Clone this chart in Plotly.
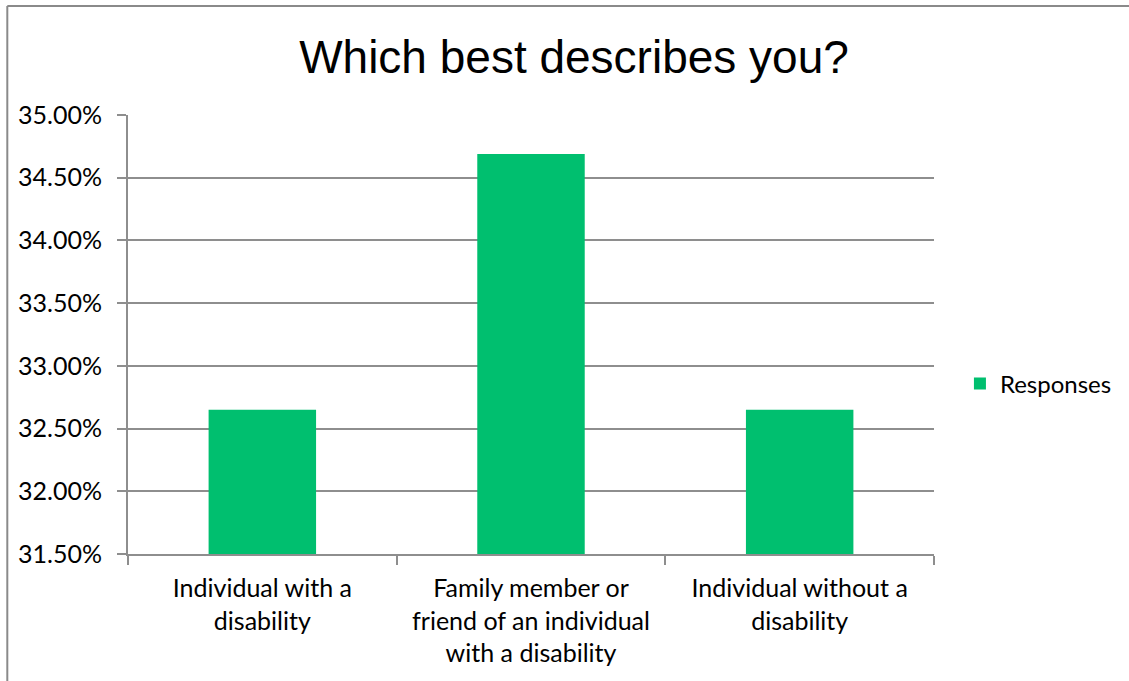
import plotly.graph_objects as go

# Survey results
categories = [
    "Individual with a<br>disability",
    "Family member or<br>friend of an individual<br>with a disability",
    "Individual without a<br>disability",
]
responses = [32.65, 34.69, 32.65]  # percent of respondents
series_name = "Responses"
title_text = "Which best describes you?"

W, H = 1129, 681
ML, MR, MT, MB = 128, 193, 115, 127
plot_w = W - ML - MR
plot_h = H - MT - MB

GRID = "#8e8e8e"
BAR = "#00BF6F"
TICK_FONT = dict(family="Lato, 'Open Sans', sans-serif", size=25, color="#000000")

fig = go.Figure()
fig.add_trace(go.Bar(
    x=categories,
    y=responses,
    name=series_name,
    marker=dict(color=BAR, line=dict(width=0)),
    width=0.4,
    showlegend=True,
))

# frame lines around the chart area (left and top edges)
px_to_xpaper = lambda px: (px - ML) / plot_w
px_to_ypaper = lambda py: (H - MB - py) / plot_h
fig.add_shape(type="line", xref="paper", yref="paper",
              x0=px_to_xpaper(7), x1=px_to_xpaper(7),
              y0=px_to_ypaper(6), y1=px_to_ypaper(H + 5),
              line=dict(color="#8a8a8a", width=2))
fig.add_shape(type="line", xref="paper", yref="paper",
              x0=px_to_xpaper(7), x1=px_to_xpaper(W + 5),
              y0=px_to_ypaper(6), y1=px_to_ypaper(6),
              line=dict(color="#8a8a8a", width=2))

fig.update_layout(
    width=W, height=H,
    margin=dict(l=ML, r=MR, t=MT, b=MB, pad=0),
    paper_bgcolor="white",
    plot_bgcolor="white",
    title=dict(
        text=title_text,
        font=dict(family="'Liberation Sans', Arial, sans-serif", size=46, color="#000000"),
        x=(574) / W, xanchor="center",
        y=1 - 57 / H, yanchor="middle",
    ),
    legend=dict(
        x=px_to_xpaper(962), xanchor="left",
        y=px_to_ypaper(384), yanchor="middle",
        font=dict(family="Lato, 'Open Sans', sans-serif", size=24, color="#000000"),
        bgcolor="rgba(0,0,0,0)",
        itemsizing="constant",
    ),
    bargap=0.6,
    xaxis=dict(
        type="category",
        showline=True, linecolor=GRID, linewidth=2,
        ticks="outside", tickson="boundaries", ticklen=9, tickcolor=GRID, tickwidth=2,
        tickfont=TICK_FONT,
        showgrid=False,
        ticklabelstandoff=11,
    ),
    yaxis=dict(
        range=[31.5, 35.0],
        dtick=0.5,
        tick0=31.5,
        tickformat=".2f",
        ticksuffix="%",
        showgrid=True, gridcolor=GRID, gridwidth=2,
        showline=True, linecolor=GRID, linewidth=2,
        ticks="outside", ticklen=9, tickcolor=GRID, tickwidth=2,
        tickfont=TICK_FONT,
        ticklabelstandoff=10,
        zeroline=False,
    ),
)

fig.write_html("out.html")
